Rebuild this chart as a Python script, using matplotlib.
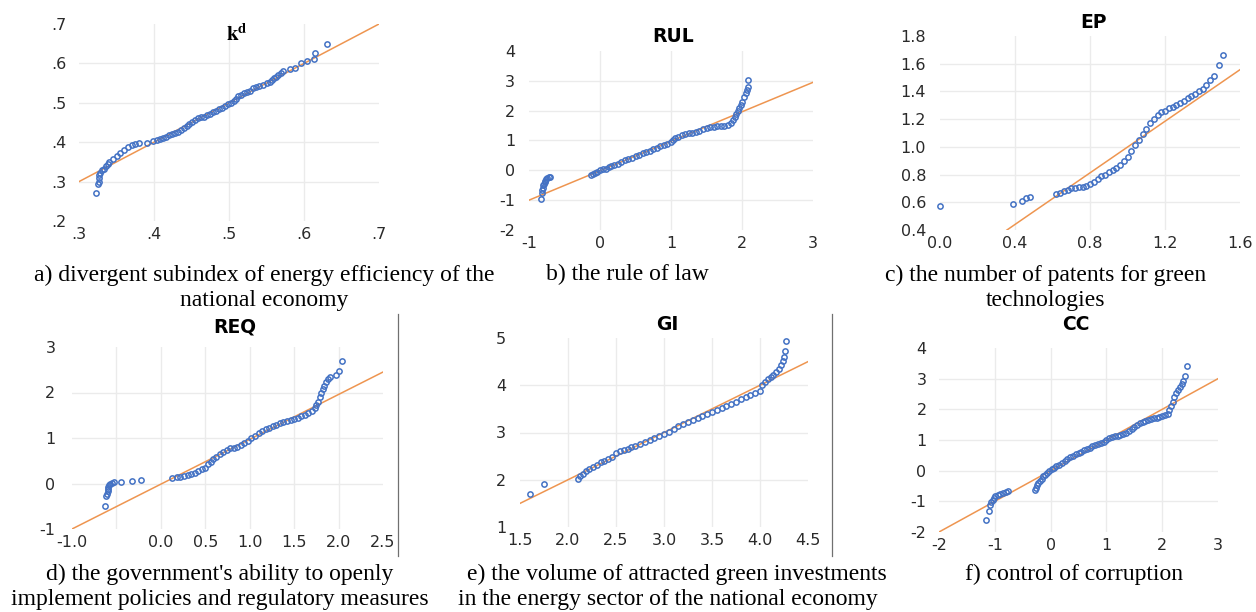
import matplotlib
matplotlib.use('Agg')
import matplotlib.pyplot as plt
from matplotlib.lines import Line2D

plt.rcParams['mathtext.fontset'] = 'stix'

# ---- data (x = theoretical quantile, y = sample quantile) ----
kd_x = [0.322, 0.325, 0.326, 0.327, 0.327, 0.328, 0.330, 0.333, 0.336, 0.338, 0.340, 0.345,
        0.350, 0.355, 0.360, 0.365, 0.370, 0.375, 0.380, 0.390, 0.398, 0.404, 0.408, 0.412,
        0.416, 0.420, 0.424, 0.428, 0.432, 0.436, 0.440, 0.444, 0.447, 0.450, 0.454, 0.458,
        0.462, 0.466, 0.470, 0.474, 0.478, 0.482, 0.486, 0.490, 0.494, 0.498, 0.502, 0.506,
        0.509, 0.512, 0.516, 0.520, 0.524, 0.528, 0.532, 0.536, 0.540, 0.545, 0.550, 0.554,
        0.557, 0.560, 0.563, 0.566, 0.569, 0.572, 0.581, 0.588, 0.596, 0.604, 0.613, 0.614,
        0.630]
kd_y = [0.270, 0.293, 0.300, 0.310, 0.318, 0.322, 0.330, 0.333, 0.340, 0.345, 0.350, 0.358,
        0.365, 0.372, 0.380, 0.388, 0.394, 0.396, 0.397, 0.399, 0.402, 0.405, 0.407, 0.410,
        0.414, 0.418, 0.421, 0.424, 0.427, 0.431, 0.435, 0.440, 0.446, 0.452, 0.457, 0.461,
        0.463, 0.465, 0.468, 0.472, 0.476, 0.480, 0.484, 0.488, 0.492, 0.497, 0.500, 0.504,
        0.510, 0.516, 0.520, 0.524, 0.527, 0.530, 0.537, 0.540, 0.543, 0.546, 0.551, 0.554,
        0.558, 0.562, 0.566, 0.570, 0.575, 0.580, 0.585, 0.588, 0.601, 0.606, 0.612, 0.627,
        0.650]

rul_x = [-0.83, -0.82, -0.81, -0.80, -0.80, -0.79, -0.78, -0.77, -0.76, -0.74, -0.72, -0.70,
         -0.12, -0.10, -0.07, -0.04, 0.00, 0.04, 0.08, 0.12, 0.16, 0.20, 0.25, 0.30, 0.35,
         0.40, 0.45, 0.50, 0.55, 0.60, 0.65, 0.70, 0.75, 0.80, 0.85, 0.90, 0.95, 1.00, 1.03,
         1.06, 1.10, 1.15, 1.20, 1.25, 1.30, 1.35, 1.40, 1.45, 1.50, 1.55, 1.60, 1.65, 1.70,
         1.75, 1.80, 1.85, 1.88, 1.90, 1.92, 1.94, 1.96, 1.98, 2.00, 2.03, 2.05, 2.07, 2.08,
         2.09]
rul_y = [-0.97, -0.75, -0.65, -0.58, -0.50, -0.45, -0.40, -0.35, -0.30, -0.26, -0.23, -0.21,
         -0.17, -0.13, -0.08, -0.04, 0.00, 0.03, 0.06, 0.10, 0.14, 0.17, 0.22, 0.27, 0.33,
         0.38, 0.43, 0.48, 0.53, 0.57, 0.61, 0.66, 0.71, 0.76, 0.80, 0.85, 0.89, 0.95, 1.02,
         1.07, 1.12, 1.17, 1.21, 1.24, 1.26, 1.29, 1.33, 1.38, 1.42, 1.45, 1.46, 1.47, 1.48,
         1.49, 1.51, 1.58, 1.70, 1.80, 1.90, 2.00, 2.10, 2.20, 2.30, 2.45, 2.60, 2.70, 2.80,
         3.03]

ep_x = [0.00, 0.39, 0.44, 0.46, 0.48, 0.62, 0.64, 0.66, 0.68, 0.70, 0.72, 0.74, 0.76, 0.78,
        0.80, 0.82, 0.84, 0.86, 0.88, 0.90, 0.92, 0.94, 0.96, 0.98, 1.00, 1.02, 1.04, 1.06,
        1.08, 1.10, 1.12, 1.14, 1.16, 1.18, 1.20, 1.22, 1.24, 1.26, 1.28, 1.30, 1.32, 1.34,
        1.36, 1.38, 1.40, 1.42, 1.44, 1.46, 1.49, 1.51]
ep_y = [0.57, 0.59, 0.61, 0.63, 0.64, 0.66, 0.67, 0.68, 0.69, 0.70, 0.705, 0.71, 0.71, 0.72,
        0.73, 0.75, 0.77, 0.79, 0.80, 0.82, 0.83, 0.85, 0.87, 0.90, 0.93, 0.97, 1.01, 1.05,
        1.09, 1.13, 1.17, 1.20, 1.23, 1.25, 1.26, 1.28, 1.29, 1.30, 1.32, 1.33, 1.35, 1.37,
        1.38, 1.40, 1.42, 1.45, 1.48, 1.51, 1.59, 1.66]

req_x = [-0.63, -0.62, -0.61, -0.60, -0.60, -0.59, -0.58, -0.57, -0.55, -0.53, -0.45, -0.32,
         -0.22, 0.12, 0.18, 0.22, 0.26, 0.30, 0.34, 0.38, 0.42, 0.46, 0.50, 0.53, 0.56, 0.59,
         0.62, 0.66, 0.70, 0.74, 0.78, 0.82, 0.86, 0.90, 0.94, 0.98, 1.02, 1.06, 1.10, 1.14,
         1.18, 1.22, 1.26, 1.30, 1.34, 1.38, 1.42, 1.46, 1.50, 1.54, 1.58, 1.62, 1.66, 1.70,
         1.73, 1.75, 1.77, 1.79, 1.80, 1.82, 1.84, 1.86, 1.88, 1.90, 1.97, 2.01, 2.04]
req_y = [-0.50, -0.28, -0.22, -0.17, -0.12, -0.08, -0.04, -0.01, 0.01, 0.03, 0.04, 0.05,
         0.07, 0.12, 0.14, 0.15, 0.16, 0.18, 0.21, 0.24, 0.28, 0.31, 0.35, 0.42, 0.48, 0.54,
         0.59, 0.64, 0.69, 0.73, 0.77, 0.79, 0.81, 0.84, 0.88, 0.93, 0.99, 1.05, 1.10, 1.15,
         1.19, 1.22, 1.26, 1.29, 1.32, 1.35, 1.37, 1.40, 1.42, 1.45, 1.48, 1.51, 1.55, 1.60,
         1.66, 1.72, 1.80, 1.90, 2.00, 2.08, 2.15, 2.22, 2.30, 2.33, 2.38, 2.48, 2.70]

gi_x = [1.60, 1.75, 2.10, 2.13, 2.16, 2.19, 2.22, 2.26, 2.30, 2.34, 2.38, 2.42, 2.46, 2.50,
        2.54, 2.58, 2.62, 2.66, 2.70, 2.75, 2.80, 2.85, 2.90, 2.95, 3.00, 3.05, 3.10, 3.15,
        3.20, 3.25, 3.30, 3.35, 3.40, 3.45, 3.50, 3.55, 3.60, 3.65, 3.70, 3.75, 3.80, 3.85,
        3.90, 3.95, 4.00, 4.02, 4.05, 4.08, 4.11, 4.14, 4.17, 4.20, 4.22, 4.24, 4.25, 4.26,
        4.27]
gi_y = [1.70, 1.90, 2.02, 2.08, 2.13, 2.18, 2.22, 2.26, 2.32, 2.37, 2.40, 2.43, 2.48, 2.56,
        2.60, 2.62, 2.65, 2.69, 2.72, 2.76, 2.80, 2.84, 2.88, 2.92, 2.96, 3.02, 3.08, 3.13,
        3.18, 3.22, 3.27, 3.31, 3.35, 3.39, 3.43, 3.47, 3.51, 3.56, 3.60, 3.65, 3.70, 3.75,
        3.79, 3.83, 3.88, 4.00, 4.07, 4.13, 4.18, 4.22, 4.28, 4.35, 4.42, 4.52, 4.60, 4.72,
        4.93]

cc_x = [-1.15, -1.10, -1.08, -1.06, -1.04, -1.02, -0.99, -0.95, -0.90, -0.85, -0.80, -0.76,
        -0.28, -0.27, -0.25, -0.22, -0.19, -0.16, -0.13, -0.10, -0.06, -0.02, 0.02, 0.06,
        0.10, 0.15, 0.20, 0.25, 0.30, 0.35, 0.40, 0.45, 0.50, 0.55, 0.60, 0.65, 0.70, 0.75,
        0.80, 0.85, 0.90, 0.95, 1.00, 1.05, 1.10, 1.15, 1.20, 1.25, 1.30, 1.35, 1.40, 1.45,
        1.50, 1.55, 1.60, 1.65, 1.70, 1.75, 1.80, 1.85, 1.90, 1.95, 2.00, 2.05, 2.10, 2.13,
        2.16, 2.19, 2.22, 2.25, 2.28, 2.32, 2.36, 2.38, 2.40, 2.45]
cc_y = [-1.62, -1.30, -1.12, -1.02, -0.95, -0.88, -0.83, -0.80, -0.77, -0.72, -0.69, -0.67,
        -0.62, -0.55, -0.48, -0.40, -0.33, -0.26, -0.19, -0.13, -0.07, -0.02, 0.04, 0.09,
        0.14, 0.20, 0.26, 0.32, 0.38, 0.43, 0.48, 0.53, 0.58, 0.62, 0.67, 0.71, 0.75, 0.79,
        0.83, 0.87, 0.91, 0.95, 1.00, 1.05, 1.09, 1.12, 1.13, 1.15, 1.18, 1.23, 1.30, 1.36,
        1.42, 1.50, 1.56, 1.60, 1.63, 1.66, 1.69, 1.71, 1.73, 1.75, 1.77, 1.80, 1.86, 1.98,
        2.10, 2.25, 2.40, 2.52, 2.62, 2.72, 2.82, 2.92, 3.08, 3.42]

# reference lines (ends)
kd_line = ([0.3, 0.7], [0.3, 0.7])
rul_line = ([-1, 3], [-1, 2.95])
ep_line = ([0.357, 1.6], [0.4, 1.557])
req_line = ([-1, 2.5], [-1, 2.45])
gi_line = ([1.5, 4.5], [1.5, 4.5])
cc_line = ([-2, 3], [-2, 3])

W, H = 1256, 612
fig = plt.figure(figsize=(W / 100, H / 100), dpi=100)

BLUE = '#4472C4'
ORANGE = '#EE9550'
GRID = '#ebebeb'
TICK = '#2a2a2a'


def fx(x):
    return x / W


def fy(y):
    return 1 - y / H


def panel(box, xs, ys, line, xticks, yticks, xlabels, ylabels, ypad):
    l, r, t, b = box
    ax = fig.add_axes([fx(l), fy(b), (r - l) / W, (b - t) / H])
    ax.plot(line[0], line[1], color=ORANGE, lw=1.1, zorder=2)
    ax.plot(xs, ys, 'o', ms=3.8, mfc='none', mec=BLUE, mew=1.1, zorder=3, clip_on=False)
    ax.set_xlim(xticks[0], xticks[-1])
    ax.set_ylim(yticks[0], yticks[-1])
    ax.set_xticks(xticks)
    ax.set_yticks(yticks)
    ax.set_xticklabels(xlabels)
    ax.set_yticklabels(ylabels)
    ax.grid(True, color=GRID, lw=1)
    ax.set_axisbelow(True)
    for g in (ax.get_xgridlines()[0], ax.get_xgridlines()[-1],
              ax.get_ygridlines()[0], ax.get_ygridlines()[-1]):
        g.set_visible(False)
    for s in ax.spines.values():
        s.set_visible(False)
    ax.tick_params(length=0, labelsize=11.5, colors=TICK)
    ax.tick_params(axis='y', pad=ypad)
    ax.tick_params(axis='x', pad=4)
    return ax


panel((79, 379, 24, 221), kd_x, kd_y, kd_line,
      [0.3, 0.4, 0.5, 0.6, 0.7], [0.2, 0.3, 0.4, 0.5, 0.6, 0.7],
      ['.3', '.4', '.5', '.6', '.7'], ['.2', '.3', '.4', '.5', '.6', '.7'], 9)
panel((529, 813, 51, 230), rul_x, rul_y, rul_line,
      [-1, 0, 1, 2, 3], [-2, -1, 0, 1, 2, 3, 4],
      ['-1', '0', '1', '2', '3'], ['-2', '-1', '0', '1', '2', '3', '4'], 10)
panel((940, 1240, 36, 230), ep_x, ep_y, ep_line,
      [0.0, 0.4, 0.8, 1.2, 1.6], [0.4, 0.6, 0.8, 1.0, 1.2, 1.4, 1.6, 1.8],
      ['0.0', '0.4', '0.8', '1.2', '1.6'],
      ['0.4', '0.6', '0.8', '1.0', '1.2', '1.4', '1.6', '1.8'], 10)
panel((72, 383, 347, 529), req_x, req_y, req_line,
      [-1.0, -0.5, 0.0, 0.5, 1.0, 1.5, 2.0, 2.5], [-1, 0, 1, 2, 3],
      ['-1.0', '', '0.0', '0.5', '1.0', '1.5', '2.0', '2.5'], ['-1', '0', '1', '2', '3'], 12)
panel((520, 808, 338, 527), gi_x, gi_y, gi_line,
      [1.5, 2.0, 2.5, 3.0, 3.5, 4.0, 4.5], [1, 2, 3, 4, 5],
      ['1.5', '2.0', '2.5', '3.0', '3.5', '4.0', '4.5'], ['1', '2', '3', '4', '5'], 10)
panel((939, 1218, 348, 532), cc_x, cc_y, cc_line,
      [-2, -1, 0, 1, 2, 3], [-2, -1, 0, 1, 2, 3, 4],
      ['-2', '-1', '0', '1', '2', '3'], ['-2', '-1', '0', '1', '2', '3', '4'], 9)

# panel titles
fig.text(fx(237), fy(34), r'$\mathbf{k}^{\mathbf{d}}$', fontsize=15, ha='center', va='center')
for txt, x, y in [('RUL', 673, 36), ('EP', 1094, 22), ('REQ', 235, 327),
                  ('GI', 667, 325), ('CC', 1076, 324)]:
    fig.text(fx(x), fy(y), txt, fontsize=13.5, fontweight='bold', ha='center', va='center')

# captions
cap = dict(family='Liberation Serif', fontsize=17, ha='center', va='center', linespacing=1.2)
fig.text(fx(264), fy(288), 'a) divergent subindex of energy efficiency of the\nnational economy', **cap)
fig.text(fx(627), fy(274), 'b) the rule of law', **cap)
fig.text(fx(1046), fy(288), 'c) the number of patents for green\ntechnologies', **cap)
fig.text(fx(220), fy(587), "d) the government's ability to openly\nimplement policies and regulatory measures", **cap)
fig.text(fx(677), fy(574), 'e) the volume of attracted green investments', **cap)
fig.text(fx(668), fy(599), 'in the energy sector of the national economy', **cap)
fig.text(fx(1074), fy(574), 'f) control of corruption', **cap)

# thin separators between lower panels
for x in (398, 832):
    fig.add_artist(Line2D([fx(x), fx(x)], [fy(314), fy(556)], color='#707070', lw=0.9))

fig.savefig('out.png', dpi=100)
